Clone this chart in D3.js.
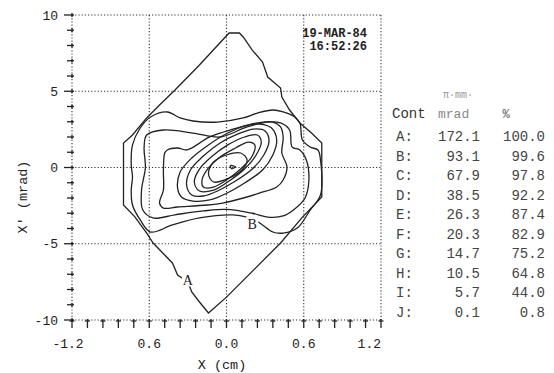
<!DOCTYPE html>
<html lang="en">
  <head>
    <meta charset="UTF-8" />
    <title>Phase space contours</title>
    <script src="https://d3js.org/d3.v7.min.js"></script>
    <style>
      body { margin: 0; background: #fff; }
      text { font-family: "Liberation Mono", "DejaVu Sans Mono", monospace; fill: #222; }
    </style>
  </head>
  <body>
    <svg width="554" height="373"></svg>

    <script>
      // contour outlines, [X (cm), X' (mrad)]
      var contA = [[0.02, 8.82], [0.10, 8.82], [0.13, 8.56], [0.20, 7.70], [0.28, 6.92], [0.32, 5.93], [0.42, 5.21],
        [0.43, 4.62], [0.49, 3.77], [0.57, 2.92], [0.66, 2.26], [0.74, 1.61], [0.74, -1.93], [0.59, -3.25],
        [0.42, -4.95], [0.00, -8.50], [-0.14, -9.54], [-0.21, -8.82], [-0.27, -8.16], [-0.30, -7.50],
        [-0.38, -7.05], [-0.42, -6.26], [-0.48, -5.74], [-0.57, -4.95], [-0.62, -4.30], [-0.71, -3.25],
        [-0.80, -2.46], [-0.80, 1.61], [-0.73, 2.13], [-0.62, 3.25], [-0.52, 4.10], [-0.40, 5.08], [-0.21, 6.72]];
      var contB = [[-0.59, 3.31], [-0.46, 3.64], [-0.36, 3.25], [-0.26, 3.05], [-0.07, 2.98], [0.13, 3.25], [0.24, 3.57],
        [0.36, 3.77], [0.44, 3.64], [0.53, 3.31], [0.57, 2.92], [0.59, 1.80], [0.65, 1.34], [0.71, 1.15], [0.73, 0.49],
        [0.73, -1.80], [0.65, -2.79], [0.55, -3.97], [0.44, -4.30], [0.36, -4.23], [0.28, -3.77], [0.22, -3.44],
        [0.16, -3.25], [0.05, -3.11], [-0.21, -3.31], [-0.42, -3.77], [-0.59, -4.23], [-0.67, -3.44], [-0.73, -2.46],
        [-0.74, -1.48], [-0.73, -0.62], [-0.74, 0.16], [-0.73, 1.48], [-0.67, 2.59]];
      var contC = [[-0.62, 2.13], [-0.49, 2.46], [-0.26, 2.26], [-0.05, 2.00], [0.16, 2.66], [0.32, 2.98], [0.42, 2.92],
        [0.49, 2.46], [0.51, 1.34], [0.57, 1.15], [0.62, 0.49], [0.64, -0.82], [0.61, -2.00], [0.52, -2.79],
        [0.44, -3.18], [0.32, -3.25], [0.20, -3.00], [0.00, -2.75], [-0.18, -2.85], [-0.40, -3.10], [-0.57, -3.31],
        [-0.65, -2.79], [-0.66, -1.50], [-0.63, 0.00], [-0.64, 1.30]];
      var contD = [[-0.46, 1.15], [-0.38, 1.28], [-0.31, 1.15], [-0.23, 1.48], [-0.15, 1.93], [-0.05, 2.26], [0.08, 2.59],
        [0.24, 2.92], [0.36, 2.98], [0.42, 2.66], [0.44, 2.00], [0.43, 0.95], [0.47, 0.03], [0.44, -0.82],
        [0.39, -1.28], [0.26, -1.67], [0.13, -2.00], [-0.03, -2.33], [-0.15, -2.46], [-0.38, -2.59], [-0.49, -2.66],
        [-0.52, -2.33], [-0.49, -1.48], [-0.49, -0.16], [-0.48, 0.95]];
      var contE = [[-0.38, -1.34], [-0.36, -0.30], [-0.27, 0.62], [-0.14, 1.48], [0.01, 2.26], [0.14, 2.72], [0.26, 2.85],
        [0.35, 2.59], [0.39, 1.80], [0.36, 0.82], [0.28, -0.16], [0.14, -1.02], [-0.01, -1.74], [-0.13, -2.13],
        [-0.26, -2.20], [-0.35, -1.93]];
      var contF = [[-0.31, -1.15], [-0.28, -0.16], [-0.18, 0.75], [-0.05, 1.61], [0.09, 2.20], [0.21, 2.52], [0.30, 2.39],
        [0.33, 1.74], [0.29, 0.82], [0.20, -0.10], [0.07, -0.89], [-0.07, -1.54], [-0.18, -1.87], [-0.27, -1.80]];
      var contG = [[-0.25, -0.95], [-0.21, -0.10], [-0.11, 0.75], [0.01, 1.48], [0.14, 2.00], [0.24, 2.13], [0.27, 1.67],
        [0.23, 0.82], [0.14, -0.10], [0.02, -0.89], [-0.10, -1.48], [-0.21, -1.54]];
      var contH = [[-0.19, -0.82], [-0.14, -0.03], [-0.05, 0.69], [0.07, 1.28], [0.17, 1.67], [0.22, 1.48], [0.20, 0.75],
        [0.11, -0.10], [0.00, -0.82], [-0.10, -1.28], [-0.18, -1.28]];
      var contI = [[-0.14, -0.43], [-0.10, 0.36], [0.00, 0.82], [0.11, 0.95], [0.16, 0.49], [0.12, -0.16], [0.02, -0.69],
        [-0.10, -0.95]];
      var contJ = [[0.03, 0.12], [0.07, 0.05], [0.04, -0.08]];

      // label spots for the two named contours
      var labelA = [-0.30, -7.40];
      var labelB = [0.20, -3.72];

      // table on the right
      var contNames = ["A:", "B:", "C:", "D:", "E:", "F:", "G:", "H:", "I:", "J:"];
      var emittance = ["172.1", "93.1", "67.9", "38.5", "26.3", "20.3", "14.7", "10.5", "5.7", "0.1"];
      var percent = ["100.0", "99.6", "97.8", "92.2", "87.4", "82.9", "75.2", "64.8", "44.0", "0.8"];

      // ticks as printed on the plot
      var xTickVals = [-1.2, -0.6, 0, 0.6, 1.2];
      var xTickText = ["-1.2", "0.6", "0.0", "0.6", "1.2"];
      var yTickVals = [10, 5, 0, -5, -10];

      var svg = d3.select("svg");
      var x = d3.scaleLinear().domain([-1.2, 1.2]).range([72, 381]);
      var y = d3.scaleLinear().domain([-10, 10]).range([320, 15]);

      // dotted grid, frame included
      var grid = svg.append("g").attr("stroke", "#333").attr("stroke-width", 1.1).attr("stroke-dasharray", "1.2,2");
      grid.selectAll(".gx").data(xTickVals).enter().append("line")
        .attr("x1", function (d) { return x(d); }).attr("x2", function (d) { return x(d); })
        .attr("y1", y(10)).attr("y2", y(-10));
      grid.selectAll(".gy").data(yTickVals).enter().append("line")
        .attr("y1", function (d) { return y(d); }).attr("y2", function (d) { return y(d); })
        .attr("x1", x(-1.2)).attr("x2", x(1.2));

      // minor ticks
      var ticks = svg.append("g").attr("stroke", "#222").attr("stroke-width", 1.3);
      ticks.selectAll(".ty").data(d3.range(-10, 11)).enter().append("line")
        .attr("x1", function (d) { return d % 5 == 0 ? 64 : 67; }).attr("x2", 74)
        .attr("y1", function (d) { return y(d); }).attr("y2", function (d) { return y(d); });
      ticks.selectAll(".tyb").data(d3.range(-10, 11)).enter().append("line")
        .attr("x1", 72).attr("x2", 72)
        .attr("y1", function (d) { return y(d) - 2; }).attr("y2", function (d) { return y(d) + 2; });
      var xMinor = d3.range(0, 21).map(function (i) { return -1.2 + i * 0.12; });
      ticks.selectAll(".tx").data(xMinor).enter().append("line")
        .attr("x1", function (d) { return x(d); }).attr("x2", function (d) { return x(d); })
        .attr("y1", 319).attr("y2", 328);
      ticks.selectAll(".txb").data(xMinor).enter().append("line")
        .attr("x1", function (d) { return x(d) - 2.5; }).attr("x2", function (d) { return x(d) + 2.5; })
        .attr("y1", 321).attr("y2", 321);

      // tick labels
      svg.selectAll(".yl").data(yTickVals).enter().append("text")
        .attr("x", 58).attr("y", function (d) { return y(d) + 4.5; })
        .attr("text-anchor", "end").attr("font-size", 13)
        .text(function (d) { return d; });
      svg.selectAll(".xl").data(xTickVals).enter().append("text")
        .attr("x", function (d, i) { return i == 4 ? x(d) : x(d) - (i == 0 ? 4 : 0); })
        .attr("y", 348)
        .attr("text-anchor", function (d, i) { return i == 4 ? "end" : "middle"; })
        .attr("font-size", 13)
        .text(function (d, i) { return xTickText[i]; });

      // axis titles
      svg.append("text").attr("x", 222).attr("y", 369).attr("text-anchor", "middle")
        .attr("font-size", 13.5).text("X (cm)");
      svg.append("text").attr("transform", "translate(27,197) rotate(-90)").attr("text-anchor", "middle")
        .attr("font-size", 13.5).text("X' (mrad)");

      // time stamp
      svg.append("text").attr("x", 367).attr("y", 37).attr("text-anchor", "end")
        .attr("font-size", 12).attr("font-weight", "bold").text("19-MAR-84");
      svg.append("text").attr("x", 367).attr("y", 50).attr("text-anchor", "end")
        .attr("font-size", 12).attr("font-weight", "bold").text("16:52:26");

      // contours
      var line = d3.line()
        .x(function (d) { return x(d[0]); })
        .y(function (d) { return y(d[1]); });
      var smooth = d3.line()
        .x(function (d) { return x(d[0]); })
        .y(function (d) { return y(d[1]); })
        .curve(d3.curveCatmullRomClosed.alpha(0.5));
      var contours = [contB, contC, contD, contE, contF, contG, contH, contI, contJ];

      svg.append("path").datum(contA)
        .attr("d", line.curve(d3.curveLinearClosed))
        .attr("fill", "none").attr("stroke", "#222").attr("stroke-width", 1.3);
      svg.selectAll(".cont").data(contours).enter().append("path")
        .attr("d", smooth)
        .attr("fill", "none").attr("stroke", "#222").attr("stroke-width", 1.3)
        .attr("stroke-linejoin", "round");

      // contour labels, with a white patch so the line breaks round them
      [["A", labelA], ["B", labelB]].forEach(function (l) {
        svg.append("rect").attr("x", x(l[1][0]) - 6).attr("y", y(l[1][1]) - 8)
          .attr("width", 12).attr("height", 14).attr("fill", "#fff");
        svg.append("text").attr("x", x(l[1][0])).attr("y", y(l[1][1]) + 5)
          .attr("text-anchor", "middle").attr("font-size", 14)
          .style("font-family", "Liberation Serif, serif").text(l[0]);
      });

      // emittance table
      svg.append("text").attr("x", 458).attr("y", 98).attr("text-anchor", "middle")
        .attr("font-size", 10).style("fill", "#999").text("\u03c0\u00b7mm\u00b7");
      svg.append("text").attr("x", 392).attr("y", 118).attr("font-size", 14).style("fill", "#333").text("Cont");
      svg.append("text").attr("x", 438).attr("y", 118).attr("font-size", 13).style("fill", "#888").text("mrad");
      svg.append("text").attr("x", 506).attr("y", 118).attr("text-anchor", "middle")
        .attr("font-size", 12).style("fill", "#555").text("%");

      var rowY = d3.scalePoint().domain(contNames).range([141, 316.5]);
      var rows = svg.selectAll(".row").data(contNames).enter().append("g")
        .attr("transform", function (d) { return "translate(0," + rowY(d) + ")"; });
      rows.append("text").attr("x", 396).attr("font-size", 14).style("fill", "#444")
        .text(function (d) { return d; });
      rows.append("text").attr("x", 480).attr("text-anchor", "end").attr("font-size", 14).style("fill", "#444")
        .text(function (d, i) { return emittance[i]; });
      rows.append("text").attr("x", 545).attr("text-anchor", "end").attr("font-size", 14).style("fill", "#444")
        .text(function (d, i) { return percent[i]; });
    </script>
  </body>
</html>
